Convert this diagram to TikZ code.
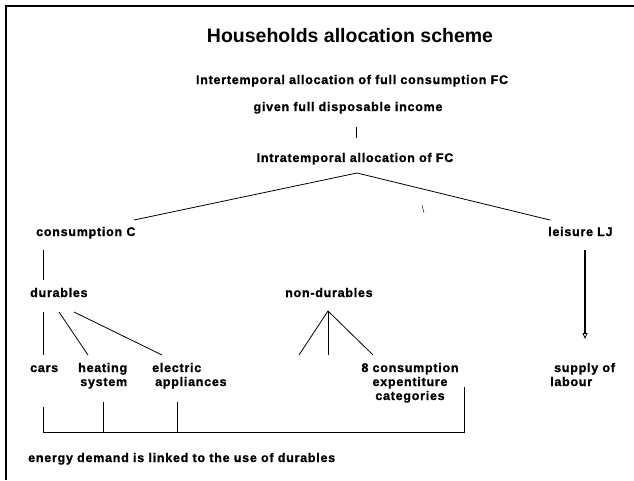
\documentclass[tikz,border=0pt]{standalone}
\usepackage{fontspec}
\setmainfont{Liberation Sans}
\newfontfamily\bodyfont[LetterSpace=6,FakeBold=1.2]{Liberation Sans Bold}
\usetikzlibrary{arrows.meta}
\begin{document}
\begin{tikzpicture}[x=1pt,y=-1pt,
  lbl/.style={inner sep=0pt,font={\bodyfont\fontsize{12.5}{14}\selectfont}},
  ttl/.style={inner sep=0pt,font={\bfseries\fontsize{19.5}{22}\selectfont}},
  conn/.style={line width=0.8pt},
  frameline/.style={line width=2pt},
  labourarrow/.style={line width=2pt,-{Triangle[open,length=6pt,width=5pt,line width=0.8pt]}}]
\useasboundingbox (0,0) rectangle (634,480);
% frame
\coordinate (ftl) at (6,6);
\coordinate (ftr) at (634,6);
\coordinate (fbl) at (6,480);
\draw[frameline] (ftr) -- (ftl) -- (fbl);
% texts
\node[ttl,anchor=base] (title) at (350,42) {Households allocation scheme};
\node[lbl,anchor=base] (inter) at (352,84) {Intertemporal allocation of full consumption FC};
\node[lbl,anchor=base] (given) at (348,111) {given full disposable income};
\node[lbl,anchor=base] (intra) at (355,162) {Intratemporal allocation of FC};
\node[lbl,anchor=base west] (cons) at (36,236) {consumption C};
\node[lbl,anchor=base west] (leis) at (548,236) {leisure LJ};
\node[lbl,anchor=base west] (dur) at (30,297) {durables};
\node[lbl,anchor=base west] (ndur) at (285,297) {non-durables};
\node[lbl,anchor=base west] (cars) at (30,372) {cars};
\node[lbl,anchor=base west,align=right] (heat) at (78,386) {heating\\system};
\node[lbl,anchor=base west,align=left] (elec) at (152,386) {electric\\\hspace*{3pt}appliances};
\node[lbl,anchor=base,align=center] (cat) at (410,400) {8 consumption\\expentiture\\categories};
\node[lbl,anchor=base west,align=left] (supp) at (550,386) {\hspace*{4pt}supply of\\labour};
\node[lbl,anchor=base west] (energy) at (28,462) {energy demand is linked to the use of durables};
% connector points
\coordinate (t1) at (356,127); \coordinate (t2) at (356,138);
\coordinate (apex) at (357,173);
\coordinate (consend) at (134,220);
\coordinate (leisend) at (550,220);
\coordinate (s1) at (422,205); \coordinate (s2) at (424,213);
\coordinate (c1) at (43,250); \coordinate (c2) at (43,280);
\coordinate (a1) at (585,250); \coordinate (a2) at (585,339);
\coordinate (d1) at (43,312); \coordinate (d1e) at (43,355);
\coordinate (d2) at (59,312); \coordinate (d2e) at (88,355);
\coordinate (d3) at (74,312); \coordinate (d3e) at (162,355);
\coordinate (napex) at (328,311);
\coordinate (n1) at (299,355); \coordinate (n2) at (328,355); \coordinate (n3) at (373,355);
\coordinate (b1) at (43,407); \coordinate (b1e) at (43,432);
\coordinate (b2) at (103,402); \coordinate (b2e) at (103,432);
\coordinate (b3) at (177,402); \coordinate (b3e) at (177,432);
\coordinate (b4) at (464,387); \coordinate (b4e) at (464,432);
% connectors
\draw[conn] (t1) -- (t2);
\draw[conn] (consend) -- (apex) -- (leisend);
\draw[line width=0.4pt] (s1) -- (s2);
\draw[conn] (c1) -- (c2);
\draw[labourarrow] (a1) -- (a2);
\draw[conn] (d1) -- (d1e);
\draw[conn] (d2) -- (d2e);
\draw[conn] (d3) -- (d3e);
\draw[conn] (n1) -- (napex) -- (n3);
\draw[conn] (napex) -- (n2);
\draw[conn] (b1) -- (b1e) -- (b4e) -- (b4);
\draw[conn] (b2) -- (b2e);
\draw[conn] (b3) -- (b3e);
\end{tikzpicture}
\end{document}
